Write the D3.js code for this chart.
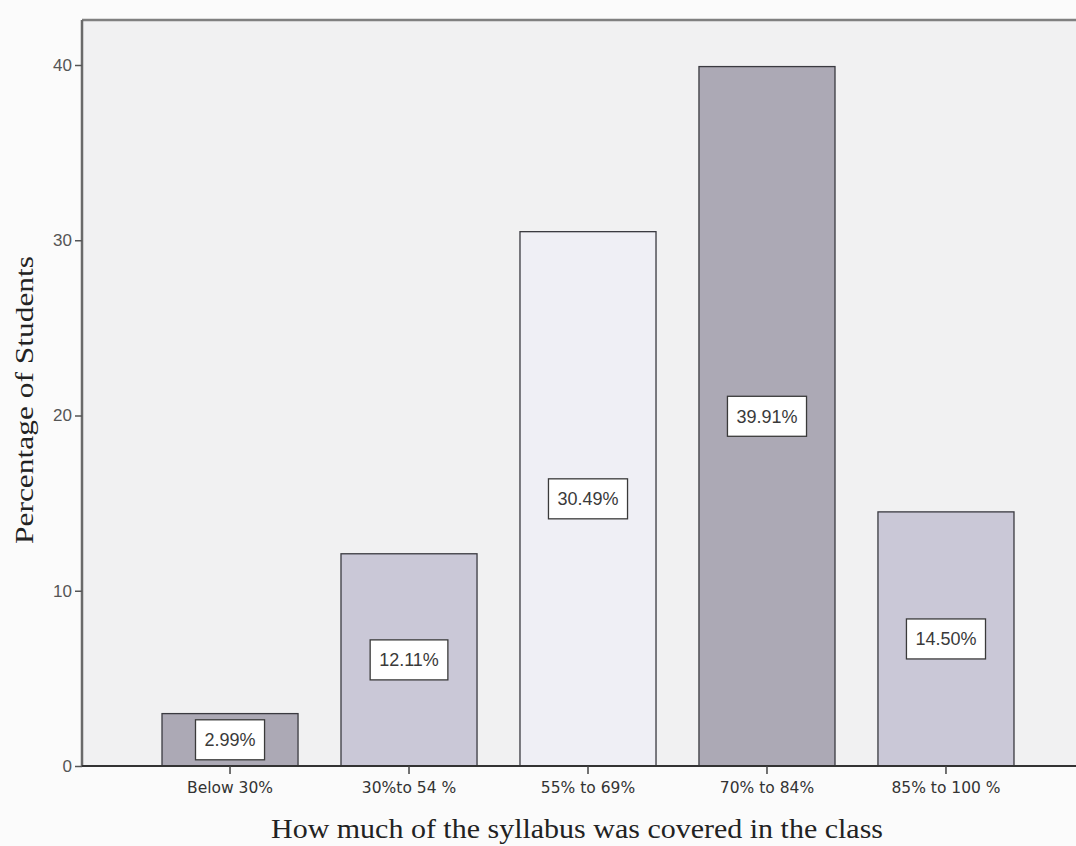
<!DOCTYPE html>
<html>
<head>
<meta charset="utf-8">
<script src="https://cdn.jsdelivr.net/npm/d3@7"></script>
<style>
  html, body { margin: 0; padding: 0; background: #fbfbfb; }
  svg { display: block; }
</style>
</head>
<body>
<script>
const categories = ["Below 30%", "30%to 54 %", "55% to 69%", "70% to 84%", "85% to 100 %"];
const values = [2.99, 12.11, 30.49, 39.91, 14.50];
const valueLabels = ["2.99%", "12.11%", "30.49%", "39.91%", "14.50%"];
const yTicks = [0, 10, 20, 30, 40];
const barColors = ["#aca9b5", "#cac8d7", "#efeff5", "#aca9b5", "#cac8d7"];

const W = 1076, H = 846;
const plot = { left: 82, top: 20, right: 1094, bottom: 766 };

const svg = d3.select("body").append("svg").attr("width", W).attr("height", H);

// plot background
svg.append("rect")
  .attr("x", plot.left).attr("y", plot.top)
  .attr("width", plot.right - plot.left).attr("height", plot.bottom - plot.top)
  .attr("fill", "#f1f1f2");

const x = d3.scaleBand().domain(categories)
  .range([plot.left, plot.right]).paddingInner(0.24).paddingOuter(0.447);
const y = d3.scaleLinear().domain([0, 40]).range([plot.bottom, 65]);

// bars
const g = svg.append("g");
g.selectAll("rect.bar").data(categories).join("rect")
  .attr("class", "bar")
  .attr("x", d => x(d))
  .attr("y", (d, i) => y(values[i]))
  .attr("width", x.bandwidth())
  .attr("height", (d, i) => y(0) - y(values[i]))
  .attr("fill", (d, i) => barColors[i])
  .attr("stroke", "#3a3a40").attr("stroke-width", 1.3);

// value labels
const lbl = g.selectAll("g.lbl").data(categories).join("g").attr("class", "lbl")
  .attr("transform", (d, i) => `translate(${x(d) + x.bandwidth() / 2},${(y(values[i]) + y(0)) / 2})`);
lbl.each(function (d, i) {
  const s = d3.select(this);
  const t = s.append("text").text(valueLabels[i])
    .attr("text-anchor", "middle").attr("dy", "0.36em")
    .attr("font-family", "Arial, 'Liberation Sans', sans-serif")
    .attr("font-size", 18).attr("fill", "#3a3a3a");
  const bb = t.node().getBBox();
  s.insert("rect", "text")
    .attr("x", bb.x - 9).attr("y", -20)
    .attr("width", bb.width + 18).attr("height", 40)
    .attr("fill", "#ffffff").attr("stroke", "#3a3a3a").attr("stroke-width", 1.3);
});

// frame (top and left)
svg.append("line").attr("x1", plot.left).attr("x2", plot.right)
  .attr("y1", plot.top).attr("y2", plot.top)
  .attr("stroke", "#808080").attr("stroke-width", 2.5);

// y axis
const yAxis = svg.append("g").attr("transform", `translate(${plot.left},0)`)
  .call(d3.axisLeft(y).tickValues(yTicks).tickSize(7).tickPadding(3).tickFormat(d3.format("d")));
yAxis.select(".domain").attr("stroke", "#6a6a6a").attr("stroke-width", 2.5)
  .attr("d", `M0,${plot.top}V${plot.bottom}`);
yAxis.selectAll(".tick line").attr("stroke", "#555").attr("stroke-width", 1.5);
yAxis.selectAll(".tick text").attr("font-family", "Arial, 'Liberation Sans', sans-serif")
  .attr("font-size", 17).attr("fill", "#555");

// x axis
const xAxis = svg.append("g").attr("transform", `translate(0,${plot.bottom})`)
  .call(d3.axisBottom(x).tickSize(8).tickPadding(8));
xAxis.select(".domain").attr("stroke", "#333").attr("stroke-width", 2)
  .attr("d", `M${plot.left},0H${plot.right}`);
xAxis.selectAll(".tick line").attr("stroke", "#444").attr("stroke-width", 1.5);
xAxis.selectAll(".tick text").attr("font-family", "'DejaVu Sans', Verdana, sans-serif")
  .attr("font-size", 15.5).attr("fill", "#333");

// axis titles
svg.append("text").text("Percentage of Students")
  .attr("transform", `translate(33,400) rotate(-90)`)
  .attr("text-anchor", "middle")
  .attr("font-family", "'Liberation Serif', 'Times New Roman', serif")
  .attr("font-size", 26).attr("fill", "#222")
  .attr("textLength", 288).attr("lengthAdjust", "spacingAndGlyphs");

svg.append("text").text("How much of the syllabus was covered in the class")
  .attr("x", 577).attr("y", 838)
  .attr("text-anchor", "middle")
  .attr("font-family", "'Liberation Serif', 'Times New Roman', serif")
  .attr("font-size", 27).attr("fill", "#222")
  .attr("textLength", 612).attr("lengthAdjust", "spacingAndGlyphs");
</script>
</body>
</html>
